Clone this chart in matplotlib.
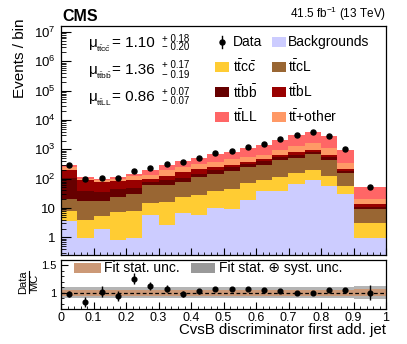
import numpy as np
import matplotlib
matplotlib.use('Agg')
import matplotlib.pyplot as plt
from matplotlib.patches import Rectangle
from matplotlib.lines import Line2D
from matplotlib.ticker import MultipleLocator, FuncFormatter, LogLocator, NullFormatter

plt.rcParams['font.family'] = ['Liberation Sans', 'DejaVu Sans']
plt.rcParams['mathtext.fontset'] = 'custom'
plt.rcParams['mathtext.rm'] = 'Liberation Sans'
plt.rcParams['mathtext.it'] = 'Liberation Sans:italic'
plt.rcParams['mathtext.bf'] = 'Liberation Sans:bold'

# ---------------- data ----------------
bin_edges = [0.0, 0.05, 0.10, 0.15, 0.20, 0.25, 0.30, 0.35, 0.40, 0.45,
             0.50, 0.55, 0.60, 0.65, 0.70, 0.75, 0.80, 0.85, 0.90, 1.00]

backgrounds = [3.6, 0.95, 1.86, 0.83, 0.98, 5.9, 2.6, 6.5, 5.6, 10.2,
               8.9, 18.2, 37.2, 37.2, 67.6, 89, 56, 29.5, 0.98]
ttcc = [4.1, 3.1, 3.4, 6.4, 6.8, 8.9, 13.6, 17.5, 21.3, 27,
        34.8, 52.6, 56, 78, 91, 106, 67, 25.5, 2.1]
ttcL = [12.2, 13.3, 11.8, 16.8, 21.7, 44.1, 42.7, 53.6, 85, 104,
        134, 174, 209, 312, 367, 481, 324, 100, 6.5]
ttbb = [85, 19.8, 18.5, 19.7, 19.5, 18.7, 28.2, 29.4, 36, 54,
        73, 79, 87, 123, 136, 118, 103, 27, 1.45]
ttbL = [99, 50, 42, 39.5, 38, 22.4, 36, 63, 66, 56,
        51, 56, 68, 81, 152, 183, 111, 37, 2.2]
ttother = [47, 12.9, 9.5, 12.3, 36, 38, 81, 81, 102, 121,
           155, 170, 204, 302, 475, 608, 461, 136, 7.7]
ttLL = [44, 14.8, 12.9, 19.3, 21.5, 66, 84, 138, 197, 304,
        375, 546, 752, 1205, 1802, 2396, 1696, 600, 29.2]
data = [288, 95, 102, 107, 182, 229, 309, 380, 525, 724,
        891, 1175, 1479, 2188, 3060, 3960, 2951, 1000, 50]

fit_stat_unc = [0.055, 0.055, 0.055, 0.055, 0.055, 0.055, 0.055, 0.055, 0.055, 0.055,
                0.055, 0.055, 0.055, 0.055, 0.055, 0.055, 0.055, 0.055, 0.065]
fit_tot_unc = [0.095, 0.095, 0.095, 0.095, 0.095, 0.095, 0.095, 0.095, 0.095, 0.095,
               0.095, 0.095, 0.095, 0.095, 0.095, 0.095, 0.095, 0.095, 0.12]

mu_subs = [r't$\bar{\mathrm{t}}$c$\bar{\mathrm{c}}$', r't$\bar{\mathrm{t}}$b$\bar{\mathrm{b}}$',
           r't$\bar{\mathrm{t}}$LL']
mu_values = ['1.10', '1.36', '0.86']
mu_up = ['0.18', '0.17', '0.07']
mu_down = ['0.20', '0.19', '0.07']

# ---------------- figure ----------------
W, H = 407, 344
fig = plt.figure(figsize=(W / 100, H / 100), dpi=100)


def fx(px):
    return px / W


def fy(py):
    return 1 - py / H


ax = fig.add_axes([fx(61), fy(255), fx(386) - fx(61), fy(26) - fy(255)])
rax = fig.add_axes([fx(61), fy(309), fx(386) - fx(61), fy(260) - fy(309)])

edges = np.array(bin_edges)
centers = 0.5 * (edges[:-1] + edges[1:])
layers = [(backgrounds, '#ccccff', 'Backgrounds'),
          (ttcc, '#ffcc33', r't$\bar{\mathrm{t}}$c$\bar{\mathrm{c}}$'),
          (ttcL, '#996633', r't$\bar{\mathrm{t}}$cL'),
          (ttbb, '#660000', r't$\bar{\mathrm{t}}$b$\bar{\mathrm{b}}$'),
          (ttbL, '#990000', r't$\bar{\mathrm{t}}$bL'),
          (ttother, '#ff9966', r't$\bar{\mathrm{t}}$+other'),
          (ttLL, '#ff6666', r't$\bar{\mathrm{t}}$LL')]

ax.set_yscale('log')
base = np.full(len(centers), 1e-3)
for vals, col, lab in layers:
    top = base + np.array(vals, dtype=float)
    ax.stairs(top, edges, baseline=base, fill=True, color=col, lw=0)
    base = top
total = base - 1e-3

d = np.array(data, dtype=float)
ax.errorbar(centers, d, yerr=np.sqrt(d), fmt='o', color='black', ms=3.6,
            elinewidth=1, capsize=0, zorder=5)

ax.set_xlim(0, 1)
ax.set_ylim(0.25, 1.6e7)
ax.xaxis.set_major_locator(MultipleLocator(0.1))
ax.xaxis.set_minor_locator(MultipleLocator(0.02))
ax.xaxis.set_major_formatter(NullFormatter())
ax.yaxis.set_major_locator(LogLocator(base=10, numticks=20))
ax.yaxis.set_minor_locator(LogLocator(base=10, subs=np.arange(2, 10), numticks=20))
ax.yaxis.set_minor_formatter(NullFormatter())


def logfmt(v, pos):
    e = int(round(np.log10(v)))
    if e == 0:
        return '1'
    if e == 1:
        return '10'
    return r'$10^{%d}$' % e


ax.yaxis.set_major_formatter(FuncFormatter(logfmt))
ax.tick_params(axis='y', which='major', direction='in', length=7, width=0.8, labelsize=9.5, pad=4)
ax.tick_params(axis='y', which='minor', direction='in', length=3.5, width=0.6)
ax.tick_params(axis='x', which='major', direction='in', length=5, width=0.8)
ax.tick_params(axis='x', which='minor', direction='in', length=2.5, width=0.6)
for s in ax.spines.values():
    s.set_linewidth(0.9)

# ratio panel
ratio = d / total
rerr = np.sqrt(d) / total
st = np.array(fit_stat_unc)
tt = np.array(fit_tot_unc)
rax.stairs(1 + tt, edges, baseline=1 - tt, fill=True, color='#b4b4b4', lw=0)
rax.stairs(1 + st, edges, baseline=1 - st, fill=True, color='#cc9977', lw=0)
rax.axhline(1, color='black', ls='--', lw=0.9, dashes=(3, 2))
rax.errorbar(centers, ratio, yerr=rerr, fmt='o', color='black', ms=3.4,
             elinewidth=1, capsize=0, zorder=5)
rax.set_xlim(0, 1)
rax.set_ylim(0.7, 1.6)
rax.xaxis.set_major_locator(MultipleLocator(0.1))
rax.xaxis.set_minor_locator(MultipleLocator(0.02))
rax.yaxis.set_major_locator(MultipleLocator(0.5))
rax.yaxis.set_minor_locator(MultipleLocator(0.1))


def xfmt(v, pos):
    if abs(v) < 1e-9:
        return '0'
    if abs(v - 1) < 1e-9:
        return '1'
    return '%.1f' % v


def ryfmt(v, pos):
    if abs(v - round(v)) < 1e-9:
        return '%d' % round(v)
    return '%.1f' % v


rax.xaxis.set_major_formatter(FuncFormatter(xfmt))
rax.yaxis.set_major_formatter(FuncFormatter(ryfmt))
rax.tick_params(axis='x', which='major', direction='in', length=5, width=0.8, labelsize=9, pad=2)
rax.tick_params(axis='x', which='minor', direction='in', length=2.5, width=0.6)
rax.tick_params(axis='y', which='major', direction='in', length=5, width=0.8, labelsize=8, pad=3)
rax.tick_params(axis='y', which='minor', direction='in', length=2.5, width=0.6)
for s in rax.spines.values():
    s.set_linewidth(0.9)

# ---------------- texts ----------------
fig.text(fx(62), fy(21), 'CMS', fontsize=11.5, fontweight='bold', ha='left', va='baseline')
fig.text(fx(386), fy(18), r'41.5 fb$^{-1}$ (13 TeV)', fontsize=8.5, ha='right', va='baseline')
fig.text(fx(20), fy(18), 'Events / bin', fontsize=11, rotation=90, ha='center', va='top')
fig.text(fx(386), fy(334), 'CvsB discriminator first add. jet', fontsize=10.8, ha='right', va='baseline')
# Data / MC fraction label
fig.text(fx(23), fy(282), 'Data', fontsize=8, rotation=90, ha='center', va='center')
fig.text(fx(34), fy(282), 'MC', fontsize=8, rotation=90, ha='center', va='center')
fig.add_artist(Line2D([fx(28.5), fx(28.5)], [fy(271), fy(293)], color='black', lw=0.8))

for i in range(3):
    yb = 47 + 27 * i
    fig.text(fx(89), fy(yb), '\u03bc', fontsize=11, ha='left', va='baseline')
    fig.text(fx(96.5), fy(yb + 5), mu_subs[i], fontsize=6, ha='left', va='baseline')
    fig.text(fx(112), fy(yb), '= ' + mu_values[i], fontsize=11, ha='left', va='baseline')
    fig.text(fx(162), fy(yb - 5.5), '+ ' + mu_up[i], fontsize=7, ha='left', va='baseline')
    fig.text(fx(162), fy(yb + 3.5), '\u2212 ' + mu_down[i], fontsize=7, ha='left', va='baseline')

# legend (main)
rows = [42, 67, 92, 117]
col1_entries = [None, layers[1], layers[3], layers[6]]
col2_entries = [layers[0], layers[2], layers[4], layers[5]]
fig.add_artist(Line2D([fx(222), fx(222)], [fy(rows[0] - 6), fy(rows[0] + 6)], color='black', lw=1))
fig.add_artist(Line2D([fx(222)], [fy(rows[0])], marker='o', color='black', ms=3.6, lw=0))
fig.text(fx(233), fy(rows[0]), 'Data', fontsize=10, ha='left', va='center')
for r, ent in zip(rows, col1_entries):
    if ent is None:
        continue
    fig.add_artist(Rectangle((fx(215), fy(r + 5)), fx(14), 10 / H, color=ent[1], lw=0))
    fig.text(fx(233), fy(r), ent[2], fontsize=10, ha='left', va='center')
for r, ent in zip(rows, col2_entries):
    fig.add_artist(Rectangle((fx(272), fy(r + 5)), fx(14), 10 / H, color=ent[1], lw=0))
    fig.text(fx(288), fy(r), ent[2], fontsize=10, ha='left', va='center')

# legend (ratio)
fig.add_artist(Rectangle((fx(74), fy(273)), fx(27), 10 / H, color='#cc9977', lw=0))
fig.text(fx(104), fy(268), 'Fit stat. unc.', fontsize=10, ha='left', va='center')
fig.add_artist(Rectangle((fx(191), fy(273)), fx(24), 10 / H, color='#999999', lw=0))
fig.text(fx(219), fy(268), 'Fit stat. \u2295 syst. unc.', fontsize=10, ha='left', va='center')

fig.savefig('out.png', dpi=100)
